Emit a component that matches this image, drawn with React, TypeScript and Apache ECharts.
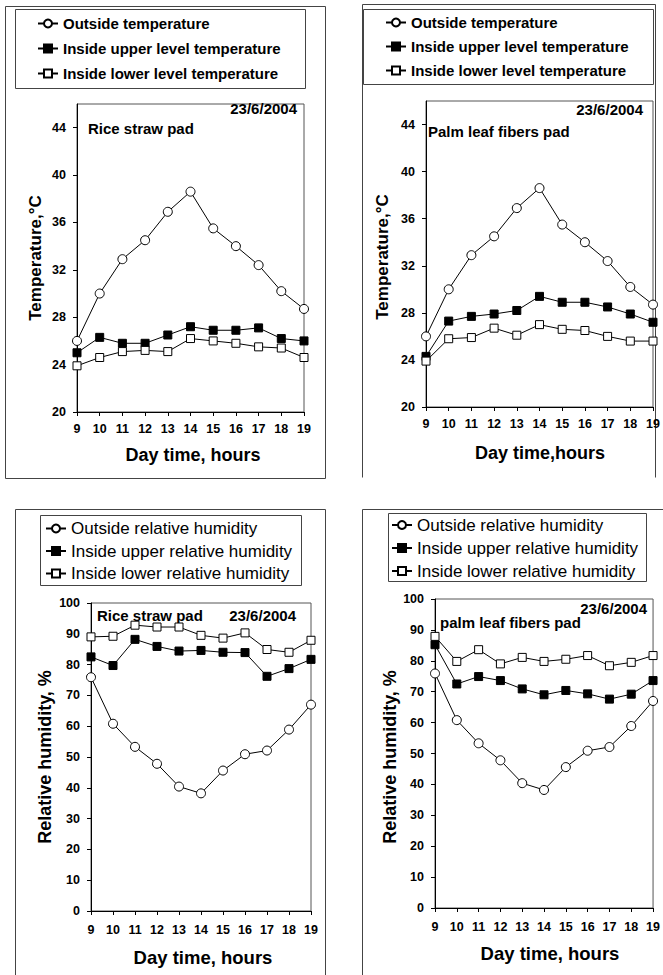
import React, { useEffect, useRef } from "react";
import * as echarts from "echarts";

const hours = [9, 10, 11, 12, 13, 14, 15, 16, 17, 18, 19];

const outsideTemp = [26.0, 30.0, 32.9, 34.5, 36.9, 38.6, 35.5, 34.0, 32.4, 30.2, 28.7];
const riceUpperTemp = [25.0, 26.3, 25.8, 25.8, 26.5, 27.2, 26.9, 26.9, 27.1, 26.2, 26.0];
const riceLowerTemp = [23.9, 24.6, 25.1, 25.2, 25.1, 26.2, 26.0, 25.8, 25.5, 25.4, 24.6];
const palmUpperTemp = [24.3, 27.3, 27.7, 27.9, 28.2, 29.4, 28.9, 28.9, 28.5, 27.9, 27.2];
const palmLowerTemp = [23.9, 25.8, 25.9, 26.7, 26.1, 27.0, 26.6, 26.5, 26.0, 25.6, 25.6];

const outsideRH = [75.9, 60.8, 53.3, 47.8, 40.4, 38.2, 45.6, 50.9, 52.1, 58.9, 67.0];
const riceUpperRH = [82.5, 79.7, 88.2, 85.9, 84.4, 84.6, 84.0, 83.9, 76.2, 78.7, 81.7];
const riceLowerRH = [89.0, 89.2, 92.8, 92.2, 92.2, 89.5, 88.6, 90.3, 84.9, 84.0, 87.9];
const palmUpperRH = [85.2, 72.5, 74.9, 73.6, 70.9, 69.0, 70.4, 69.3, 67.6, 69.2, 73.6];
const palmLowerRH = [87.9, 79.8, 83.6, 79.0, 81.1, 79.8, 80.5, 81.7, 78.4, 79.5, 81.7];

const tempTicks = [20, 24, 28, 32, 36, 40, 44];
const rhTicks = [0, 10, 20, 30, 40, 50, 60, 70, 80, 90, 100];

const tempNames = [
  "Outside temperature",
  "Inside upper level temperature",
  "Inside lower level temperature",
];
const rhNames = [
  "Outside relative humidity",
  "Inside upper relative humidity",
  "Inside lower relative humidity",
];

const FONT = '"Liberation Sans", Arial, sans-serif';

export default function App() {
  const ref = useRef<HTMLDivElement>(null);

  useEffect(() => {
    if (!ref.current) return;
    const chart = echarts.init(ref.current, null, { renderer: "svg" });

    const grids = [
      { left: 77, top: 104, width: 227, height: 308 },
      { left: 426, top: 101, width: 227, height: 306 },
      { left: 91, top: 603, width: 220, height: 308 },
      { left: 435, top: 599, width: 222, height: 309 },
    ].map((g) => ({ ...g, show: true, borderColor: "#555", borderWidth: 1, containLabel: false }));

    const xAxes = [0, 1, 2, 3].map((i) => ({
      gridIndex: i,
      type: "value",
      min: 9,
      max: 19,
      interval: 1,
      axisLine: { show: true, lineStyle: { color: "#000", width: 1 } },
      axisTick: { show: true, length: 4, lineStyle: { color: "#000" } },
      axisLabel: {
        color: "#000",
        fontWeight: "bold",
        fontSize: 12.5,
        fontFamily: FONT,
        margin: i < 2 ? 10 : 12,
      },
      splitLine: { show: false },
    }));

    const yAxes = [0, 1, 2, 3].map((i) => {
      const isTemp = i < 2;
      return {
        gridIndex: i,
        type: "value",
        min: isTemp ? 20 : 0,
        max: isTemp ? 46 : 100,
        interval: isTemp ? 4 : 10,
        axisLine: { show: true, lineStyle: { color: "#000", width: 1 } },
        axisTick: {
          show: true,
          length: 4,
          lineStyle: { color: "#000" },
          customValues: isTemp ? tempTicks : rhTicks,
        },
        axisLabel: {
          color: "#000",
          fontWeight: "bold",
          fontSize: 12.5,
          fontFamily: FONT,
          margin: 11,
          customValues: isTemp ? tempTicks : rhTicks,
          formatter: (v: number) =>
            (isTemp ? tempTicks : rhTicks).includes(v) ? String(v) : "",
        },
        splitLine: { show: false },
      };
    });

    const mk = (name: string, vals: number[], idx: number, kind: string) => ({
      type: "line",
      name,
      xAxisIndex: idx,
      yAxisIndex: idx,
      data: hours.map((h, i) => [h, vals[i]]),
      symbol: kind === "circle" ? "circle" : "rect",
      symbolSize: kind === "circle" ? 9 : 8,
      showSymbol: true,
      silent: true,
      lineStyle: { color: "#000", width: 1 },
      itemStyle: {
        color: kind === "filled" ? "#000" : "#fff",
        borderColor: "#000",
        borderWidth: 1,
      },
    });

    const series = [
      mk(tempNames[0], outsideTemp, 0, "circle"),
      mk(tempNames[1], riceUpperTemp, 0, "filled"),
      mk(tempNames[2], riceLowerTemp, 0, "open"),
      mk(tempNames[0], outsideTemp, 1, "circle"),
      mk(tempNames[1], palmUpperTemp, 1, "filled"),
      mk(tempNames[2], palmLowerTemp, 1, "open"),
      mk(rhNames[0], outsideRH, 2, "circle"),
      mk(rhNames[1], riceUpperRH, 2, "filled"),
      mk(rhNames[2], riceLowerRH, 2, "open"),
      mk(rhNames[0], outsideRH, 3, "circle"),
      mk(rhNames[1], palmUpperRH, 3, "filled"),
      mk(rhNames[2], palmLowerRH, 3, "open"),
    ];

    const mkLegend = (names: string[], left: number, top: number, gap: number, bold: boolean, size: number) => ({
      data: names,
      orient: "vertical",
      left,
      top,
      padding: 0,
      itemGap: gap,
      itemWidth: 20,
      itemHeight: 10,
      selectedMode: false,
      textStyle: {
        color: "#000",
        fontWeight: bold ? "bold" : "normal",
        fontSize: size,
        fontFamily: FONT,
      },
    });

    const legends = [
      mkLegend(tempNames, 37, 16, 10, true, 15),
      mkLegend(tempNames, 385, 15, 9, true, 15),
      mkLegend(rhNames, 45, 520, 5.5, false, 17),
      mkLegend(rhNames, 391, 516.5, 6, false, 17),
    ];

    const boxStroke = "#444";
    const rect = (x1: number, y1: number, x2: number, y2: number) => ({
      type: "rect",
      shape: { x: x1, y: y1, width: x2 - x1, height: y2 - y1 },
      style: { fill: "none", stroke: boxStroke, lineWidth: 1 },
      silent: true,
    });
    const poly = (pts: number[][]) => ({
      type: "polyline",
      shape: { points: pts },
      style: { fill: "none", stroke: boxStroke, lineWidth: 1 },
      silent: true,
    });
    const txt = (
      text: string,
      x: number,
      y: number,
      size: number,
      align: string,
      rotation = 0
    ) => ({
      type: "text",
      x,
      y,
      rotation,
      silent: true,
      style: {
        text,
        fill: "#000",
        fontSize: size,
        fontWeight: "bold",
        fontFamily: FONT,
        align,
        verticalAlign: "middle",
      },
    });

    const graphic = [
      // outer panel frames
      rect(5.5, 6.5, 325.5, 478.5),
      poly([[362.5, 477.5], [362.5, 4.5], [655.5, 4.5], [655.5, 477.5]]),
      poly([[15.5, 975], [15.5, 509.5], [325.5, 509.5], [325.5, 975]]),
      poly([[362.5, 975], [362.5, 509.5], [670, 509.5]]),
      // legend boxes
      rect(15.5, 9.5, 305.5, 88.5),
      rect(363.5, 9.5, 653.5, 84.5),
      rect(40.5, 515.5, 301.5, 585.5),
      rect(388.5, 513.5, 646.5, 581.5),
      // annotations
      txt("Rice straw pad", 88, 128, 15, "left"),
      txt("23/6/2004", 297, 108, 15, "right"),
      txt("Palm leaf fibers pad", 428, 131, 15, "left"),
      txt("23/6/2004", 643, 109, 15, "right"),
      txt("Rice straw pad", 97, 615, 15, "left"),
      txt("23/6/2004", 296, 615, 15, "right"),
      txt("palm leaf fibers pad", 440, 622, 15, "left"),
      txt("23/6/2004", 647, 608, 15, "right"),
      // axis titles
      txt("Day time, hours", 193, 455, 18, "center"),
      txt("Day time,hours", 540, 453, 18, "center"),
      txt("Day time, hours", 203, 957, 18.5, "center"),
      txt("Day time, hours", 550, 953, 18.5, "center"),
      txt("Temperature,°C", 35, 258, 17, "center", Math.PI / 2),
      txt("Temperature,°C", 382, 257, 17, "center", Math.PI / 2),
      txt("Relative humidity, %", 45, 757, 18, "center", Math.PI / 2),
      txt("Relative humidity, %", 390, 757, 18, "center", Math.PI / 2),
    ];

    chart.setOption({
      animation: false,
      backgroundColor: "#fff",
      textStyle: { fontFamily: FONT },
      grid: grids,
      xAxis: xAxes,
      yAxis: yAxes,
      legend: legends,
      series,
      graphic,
    });

    return () => chart.dispose();
  }, []);

  return (
    <div
      ref={ref}
      style={{ position: "absolute", left: 0, top: 0, width: 663, height: 975, overflow: "hidden" }}
    />
  );
}
